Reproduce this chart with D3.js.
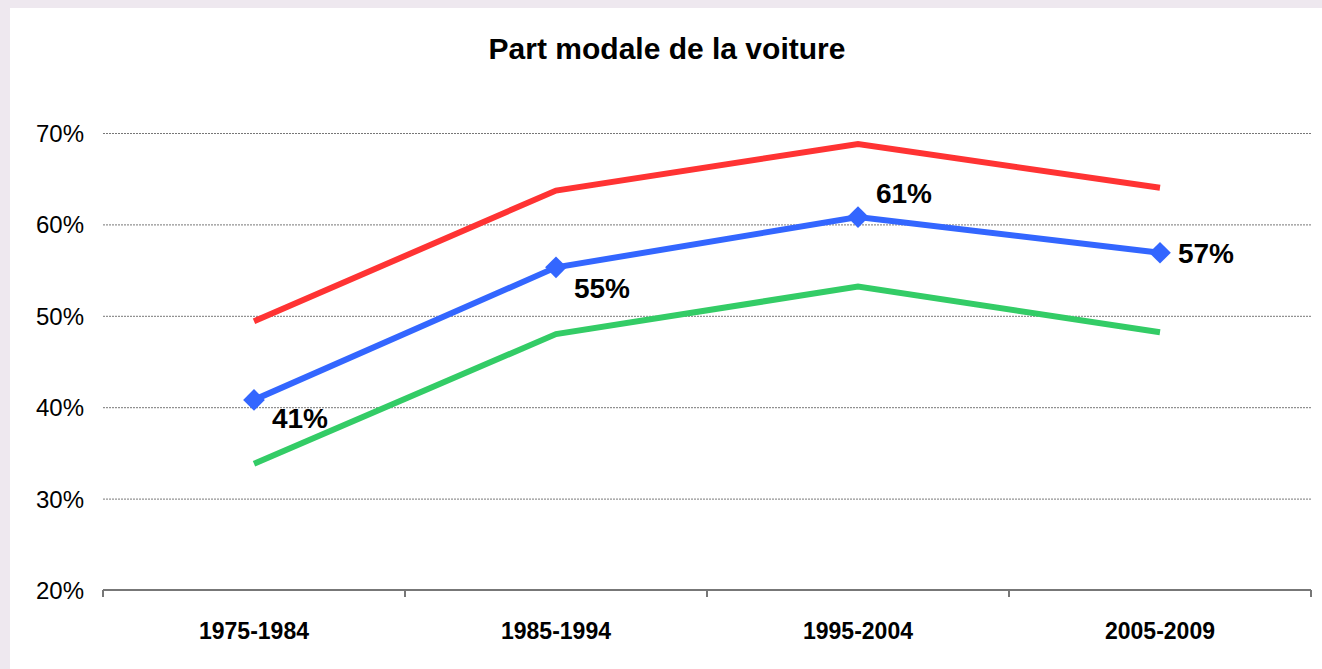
<!DOCTYPE html>
<html>
<head>
<meta charset="utf-8">
<script src="https://cdn.jsdelivr.net/npm/d3@7"></script>
<style>
  body { margin: 0; background: #eee8ef; }
  svg { display: block; font-family: "Liberation Sans", Arial, sans-serif; }
</style>
</head>
<body>
<svg id="chart"></svg>
<script>
const periods = ['1975-1984', '1985-1994', '1995-2004', '2005-2009'];
const haut = [49.4, 63.7, 68.8, 64.0];
const moyenne = [40.8, 55.3, 60.8, 56.9];
const bas = [33.8, 48.0, 53.2, 48.2];
const moyenneLabels = ['41%', '55%', '61%', '57%'];
const yTicks = [20, 30, 40, 50, 60, 70];

const width = 1322,
  height = 669,
  margin = {top: 133, right: 11, bottom: 79, left: 103};

const svg = d3.select('#chart')
  .attr('width', width)
  .attr('height', height);

// white panel over the textured background
svg.append('rect')
  .attr('x', 10).attr('y', 8)
  .attr('width', width - 10).attr('height', height - 8)
  .attr('fill', '#fff');

const x = d3.scaleBand()
  .domain(periods)
  .range([margin.left, width - margin.right]);

const y = d3.scaleLinear()
  .domain([20, 70])
  .range([height - margin.bottom, margin.top]);

svg.append('text')
  .attr('x', 667).attr('y', 59)
  .attr('text-anchor', 'middle')
  .attr('font-size', 30)
  .attr('font-weight', 'bold')
  .text('Part modale de la voiture');

// grid
svg.append('g')
  .selectAll('line')
  .data(yTicks.slice(1))
  .enter().append('line')
  .attr('x1', margin.left).attr('x2', width - margin.right)
  .attr('y1', d => y(d) + 0.5).attr('y2', d => y(d) + 0.5)
  .attr('stroke', '#777')
  .attr('stroke-width', 1)
  .attr('stroke-dasharray', '2,1');

// y labels
svg.append('g')
  .selectAll('text')
  .data(yTicks)
  .enter().append('text')
  .attr('x', 84)
  .attr('y', d => y(d) + 9)
  .attr('text-anchor', 'end')
  .attr('font-size', 24)
  .text(d => d + '%');

// x axis
const xAxis = svg.append('g')
  .attr('transform', `translate(0,${y(20)})`);
xAxis.append('line')
  .attr('x1', margin.left).attr('x2', width - margin.right)
  .attr('stroke', '#777').attr('stroke-width', 2);
xAxis.selectAll('.tick')
  .data(periods.concat(['end']))
  .enter().append('line')
  .attr('x1', (d, i) => margin.left + i * x.step())
  .attr('x2', (d, i) => margin.left + i * x.step())
  .attr('y1', 0).attr('y2', 7)
  .attr('stroke', '#777').attr('stroke-width', 2);
xAxis.selectAll('text')
  .data(periods)
  .enter().append('text')
  .attr('x', d => x(d) + x.bandwidth() / 2)
  .attr('y', 49)
  .attr('text-anchor', 'middle')
  .attr('font-size', 23)
  .attr('font-weight', 'bold')
  .text(d => d);

const line = d3.line()
  .x((d, i) => x(periods[i]) + x.bandwidth() / 2)
  .y(d => y(d));

const series = [
  {values: haut, color: '#ff3333'},
  {values: bas, color: '#33cc66'},
  {values: moyenne, color: '#3366ff'}
];

svg.append('g')
  .selectAll('path')
  .data(series)
  .enter().append('path')
  .attr('d', d => line(d.values))
  .attr('fill', 'none')
  .attr('stroke', d => d.color)
  .attr('stroke-width', 6);

svg.append('g')
  .selectAll('path')
  .data(moyenne)
  .enter().append('path')
  .attr('transform', (d, i) => `translate(${x(periods[i]) + x.bandwidth() / 2},${y(d)})`)
  .attr('d', d3.symbol().type(d3.symbolDiamond2).size(300))
  .attr('fill', '#3366ff');

const labelOffsets = [[46, 28], [46, 31], [46, -14], [46, 10]];
svg.append('g')
  .selectAll('text')
  .data(moyenne)
  .enter().append('text')
  .attr('x', (d, i) => x(periods[i]) + x.bandwidth() / 2 + labelOffsets[i][0])
  .attr('y', (d, i) => y(d) + labelOffsets[i][1])
  .attr('text-anchor', 'middle')
  .attr('font-size', 28)
  .attr('font-weight', 'bold')
  .text((d, i) => moyenneLabels[i]);
</script>
</body>
</html>
